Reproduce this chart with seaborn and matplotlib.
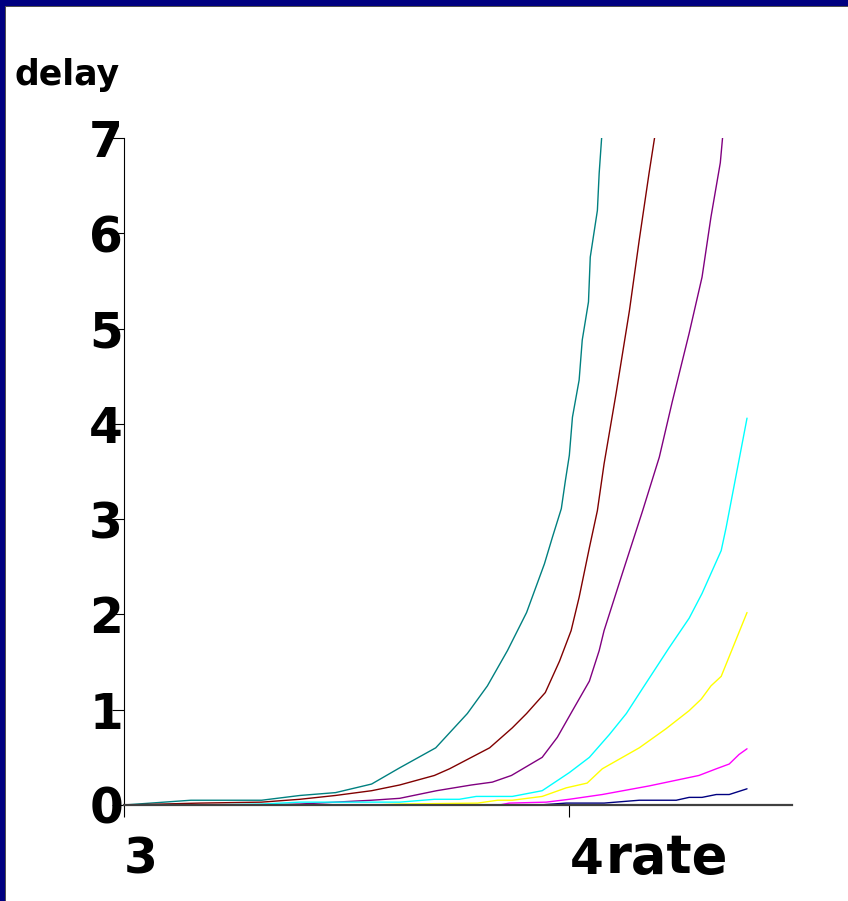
import matplotlib
matplotlib.use("Agg")
import matplotlib.pyplot as plt
from matplotlib.patches import Rectangle
import numpy as np
import pandas as pd
import seaborn as sns

# ---- data: delay versus rate for several load curves ----
curve_names = ["teal", "maroon", "purple", "cyan", "yellow", "magenta", "navy"]
curve_colors = ["#008080", "#800000", "#800080", "#00FFFF", "#FFFF00", "#FF00FF", "#000080"]

teal_x = [3.000, 3.150, 3.309, 3.395, 3.475, 3.556, 3.619, 3.700, 3.771, 3.816, 3.861,
          3.904, 3.944, 3.962, 3.982, 3.991, 4.000, 4.007, 4.022, 4.029, 4.043, 4.047,
          4.063, 4.067, 4.074]
teal_y = [0.00, 0.05, 0.05, 0.10, 0.13, 0.22, 0.39, 0.60, 0.96, 1.25, 1.62,
          2.02, 2.53, 2.81, 3.11, 3.40, 3.67, 4.07, 4.46, 4.88, 5.28, 5.75,
          6.24, 6.63, 7.10]

maroon_x = [3.000, 3.170, 3.309, 3.395, 3.475, 3.556, 3.619, 3.697, 3.731, 3.821, 3.872,
            3.904, 3.946, 3.978, 4.004, 4.022, 4.045, 4.063, 4.078, 4.105, 4.135, 4.157,
            4.179, 4.193]
maroon_y = [0.00, 0.02, 0.03, 0.06, 0.10, 0.15, 0.21, 0.31, 0.38, 0.60, 0.81,
            0.96, 1.18, 1.51, 1.83, 2.18, 2.70, 3.09, 3.58, 4.32, 5.19, 5.93,
            6.63, 7.05]

purple_x = [3.000, 3.309, 3.395, 3.475, 3.556, 3.619, 3.702, 3.780, 3.827, 3.870, 3.939,
            3.973, 4.007, 4.045, 4.067, 4.078, 4.119, 4.164, 4.202, 4.231, 4.269, 4.298,
            4.318, 4.339, 4.345]
purple_y = [0.00, 0.00, 0.01, 0.03, 0.05, 0.07, 0.15, 0.21, 0.24, 0.31, 0.50,
            0.71, 0.99, 1.30, 1.62, 1.83, 2.43, 3.08, 3.65, 4.23, 4.95, 5.54,
            6.17, 6.74, 7.05]

cyan_x = [3.000, 3.170, 3.309, 3.395, 3.556, 3.619, 3.697, 3.753, 3.791, 3.872, 3.939,
          4.000, 4.045, 4.090, 4.128, 4.164, 4.224, 4.269, 4.298, 4.341, 4.352, 4.399]
cyan_y = [0.00, 0.00, 0.01, 0.03, 0.03, 0.03, 0.06, 0.06, 0.09, 0.09, 0.15,
          0.34, 0.50, 0.74, 0.96, 1.22, 1.65, 1.96, 2.22, 2.67, 2.91, 4.06]

yellow_x = [3.000, 3.556, 3.619, 3.794, 3.839, 3.872, 3.939, 3.993, 4.040, 4.074, 4.157,
            4.217, 4.269, 4.296, 4.318, 4.341, 4.399]
yellow_y = [0.00, 0.00, 0.01, 0.02, 0.05, 0.05, 0.09, 0.18, 0.23, 0.38, 0.60,
            0.80, 0.99, 1.11, 1.25, 1.35, 2.02]

magenta_x = [3.000, 3.843, 3.865, 3.948, 4.000, 4.074, 4.179, 4.291, 4.330, 4.359,
             4.381, 4.399]
magenta_y = [0.00, 0.00, 0.02, 0.03, 0.06, 0.11, 0.20, 0.31, 0.38, 0.43,
             0.53, 0.59]

navy_x = [3.000, 3.933, 3.993, 4.078, 4.157, 4.240, 4.269, 4.298, 4.330, 4.359, 4.399]
navy_y = [0.00, 0.00, 0.02, 0.02, 0.05, 0.05, 0.08, 0.08, 0.11, 0.11, 0.17]

x_ticks = [3, 4]
x_tick_labels = ["3", "4"]
y_ticks = [0, 1, 2, 3, 4, 5, 6, 7]
y_tick_labels = ["0", "1", "2", "3", "4", "5", "6", "7"]
x_title = "rate"
y_title = "delay"

series = [
    (teal_x, teal_y), (maroon_x, maroon_y), (purple_x, purple_y), (cyan_x, cyan_y),
    (yellow_x, yellow_y), (magenta_x, magenta_y), (navy_x, navy_y),
]
df = pd.concat(
    [pd.DataFrame({"rate": xs, "delay": ys, "curve": name})
     for name, (xs, ys) in zip(curve_names, series)],
    ignore_index=True,
)

# ---- figure ----
sns.set_style("ticks")
plt.rcParams["font.family"] = ["DejaVu Sans"]
plt.rcParams["text.color"] = "black"
plt.rcParams["axes.labelcolor"] = "black"

W, H = 848, 901
fig = plt.figure(figsize=(W / 100, H / 100), dpi=100)
fig.patch.set_facecolor("white")

# frame strips along the top and left edges
fig.patches.append(Rectangle((0, 1 - 6 / H), 1, 6 / H, transform=fig.transFigure,
                             facecolor="#000080", edgecolor="none", zorder=0))
fig.patches.append(Rectangle((0, 1 - 7 / H), 1, 1 / H, transform=fig.transFigure,
                             facecolor="#505050", edgecolor="none", zorder=0))
fig.patches.append(Rectangle((0, 0), 5 / W, 1, transform=fig.transFigure,
                             facecolor="#000080", edgecolor="none", zorder=0))
fig.patches.append(Rectangle((5 / W, 0), 1 / W, 1 - 6 / H, transform=fig.transFigure,
                             facecolor="#505050", edgecolor="none", zorder=0))

left_px, right_px, top_px, bottom_px = 124, 792, 138, 805
ax = fig.add_axes([left_px / W, 1 - bottom_px / H,
                   (right_px - left_px) / W, (bottom_px - top_px) / H])
ax.set_facecolor("white")

sns.lineplot(data=df, x="rate", y="delay", hue="curve", hue_order=curve_names,
             palette=dict(zip(curve_names, curve_colors)), estimator=None, sort=False,
             linewidth=1.0, legend=False, ax=ax)

ax.set_xlim(3, 4.5)
ax.set_ylim(0, 7)

for side in ("top", "right"):
    ax.spines[side].set_visible(False)
ax.spines["left"].set_color("black")
ax.spines["left"].set_linewidth(0.8)
ax.spines["bottom"].set_color("#404040")
ax.spines["bottom"].set_linewidth(1.6)

ax.set_xticks(x_ticks)
ax.set_xticklabels(x_tick_labels)
ax.set_yticks(y_ticks)
ax.set_yticklabels(y_tick_labels)

ax.tick_params(axis="both", direction="out", length=8.6, width=0.8, colors="black",
               labelsize=35)
ax.tick_params(axis="y", pad=4.3)
ax.tick_params(axis="x", pad=31)
for lab in ax.get_yticklabels():
    lab.set_horizontalalignment("center")
    lab.set_fontweight("bold")
for lab in ax.get_xticklabels():
    lab.set_horizontalalignment("left")
    lab.set_verticalalignment("center")
    lab.set_fontweight("bold")

ax.set_xlabel(x_title, fontsize=38, fontweight="bold", ha="left", va="center",
              color="black")
ax.xaxis.set_label_coords((606 - left_px) / (right_px - left_px),
                          -(858 - bottom_px) / (bottom_px - top_px))
ax.set_ylabel(y_title, fontsize=25, fontweight="bold", rotation=0, ha="center",
              va="center", color="black")
ax.yaxis.set_label_coords((67 - left_px) / (right_px - left_px),
                          (bottom_px - 75) / (bottom_px - top_px))

fig.savefig("out.png", dpi=100, facecolor="white")
